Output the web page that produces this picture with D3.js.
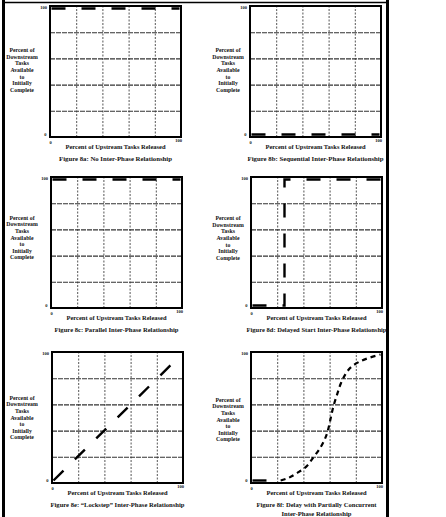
<!DOCTYPE html>
<html>
<head>
<meta charset="utf-8">
<script src="https://cdn.jsdelivr.net/npm/d3@7"></script>
<style>
  body { margin: 0; background: #fff; }
  svg { display: block; }
  text { font-family: "Liberation Serif", "DejaVu Serif", serif; font-weight: bold; fill: #111; }
</style>
</head>
<body>
<div id="chart"></div>
<script>

// Data
var panelIds = ['8a', '8b', '8c', '8d', '8e', '8f'];
var captions = [
    ['Figure 8a:  No Inter-Phase Relationship'],
    ['Figure 8b:  Sequential Inter-Phase Relationship'],
    ['Figure 8c:  Parallel Inter-Phase Relationship'],
    ['Figure 8d:  Delayed Start Inter-Phase Relationship'],
    ['Figure 8e:  \u201cLockstep\u201d Inter-Phase Relationship'],
    ['Figure 8f:  Delay with Partially Concurrent', 'Inter-Phase Relationship']
];
var yLabelLines = ['Percent of', 'Downstream', 'Tasks', 'Available', 'to', 'Initially', 'Complete'];
var xLabel = 'Percent of Upstream Tasks Released';
var gridTicks = [20, 40, 60, 80];
var axisMin = 0, axisMax = 100;

// series values (upstream %, downstream %)
var noRelation   = [[0, 100], [100, 100]];
var sequential   = [[0, 0], [100, 0]];
var parallel     = [[0, 100], [100, 100]];
var delayedStart = [[0, 0], [25, 0], [25, 100], [100, 100]];
var lockstep     = [[0, 0], [100, 100]];
var delayBase    = [[0, 0], [22, 0]];
var delayCurve   = [[22, 0], [28, 2], [35, 6], [42, 11], [48, 19], [53, 26], [57, 34], [59, 40],
                    [61, 49], [63, 58], [66, 68], [69, 77], [73, 85], [77, 90], [83, 94], [90, 97], [100, 100]];

var seriesByPanel = [
    [{ pts: noRelation, style: 'long' }],
    [{ pts: sequential, style: 'long' }],
    [{ pts: parallel, style: 'long' }],
    [{ pts: delayedStart, style: 'long' }],
    [{ pts: lockstep, style: 'long' }],
    [{ pts: delayBase, style: 'long' }, { pts: delayCurve, style: 'short' }]
];

// Layout
var W = 446, H = 517, size = 131;
var origins = [[50, 6], [250, 6], [51, 177], [251, 177], [52, 352], [251, 352]];
var labelDx = [-28, -22, -29, -23, -30, -23];
var labelDy = [-1.5, -1.5, -5, -4.5, 0, 2];
// text widths as measured on the scan
var captionWidths = [[113], [136], [124], [140], [134], [120, 70]];
var xLabelWidth = 100;

var svg = d3.select('#chart').append('svg').attr('width', W).attr('height', H);

// page frame
var frame = svg.append('g').attr('stroke', '#000').attr('fill', 'none');
frame.append('line').attr('x1', 3.5).attr('x2', 3.5).attr('y1', 0).attr('y2', H).attr('stroke-width', 3);
frame.append('line').attr('x1', 387.5).attr('x2', 387.5).attr('y1', 0).attr('y2', H).attr('stroke-width', 3);
frame.append('line').attr('x1', 3).attr('x2', 388).attr('y1', 2.5).attr('y2', 2.5).attr('stroke-width', 1.5);

panelIds.forEach(function(id, i) {
    var o = origins[i];
    var g = svg.append('g').attr('class', 'panel-' + id).attr('transform', 'translate(' + o[0] + ',' + o[1] + ')');

    var x = d3.scaleLinear().domain([axisMin, axisMax]).range([0, size]);
    var y = d3.scaleLinear().domain([axisMin, axisMax]).range([size, 0]);
    // data drawn slightly inside the frame, like the scan
    var xd = d3.scaleLinear().domain([axisMin, axisMax]).range([1.5, size - 1.5]);
    var yd = d3.scaleLinear().domain([axisMin, axisMax]).range([size - 2.5, 2.5]);

    // vertical grid
    var gx = g.append('g').attr('transform', 'translate(0,' + size + ')')
        .call(d3.axisBottom(x).tickValues(gridTicks).tickSize(-size).tickFormat(''));
    gx.select('.domain').remove();
    gx.selectAll('line').attr('stroke', '#555').attr('stroke-width', 1).attr('stroke-dasharray', '2,1.5');

    // horizontal grid
    var gy = g.append('g')
        .call(d3.axisLeft(y).tickValues(gridTicks).tickSize(-size).tickFormat(''));
    gy.select('.domain').remove();
    gy.selectAll('line').attr('stroke', '#333').attr('stroke-width', 1.1).attr('stroke-dasharray', '5,1');

    // box
    g.append('rect').attr('x', x(axisMin)).attr('y', y(axisMax))
        .attr('width', x(axisMax) - x(axisMin)).attr('height', y(axisMin) - y(axisMax))
        .attr('fill', 'none').attr('stroke', '#000').attr('stroke-width', 2);

    // series
    var line = d3.line().x(function(d){ return xd(d[0]); }).y(function(d){ return yd(d[1]); });
    seriesByPanel[i].forEach(function(s) {
        g.append('path')
            .attr('d', s.style === 'short' ? line.curve(d3.curveCatmullRom)(s.pts) : line.curve(d3.curveLinear)(s.pts))
            .attr('fill', 'none').attr('stroke', '#000')
            .attr('stroke-width', s.style === 'short' ? 2.2 : 2.4)
            .attr('stroke-dasharray', s.style === 'short' ? '5,4' : '14,16');
    });

    // end labels
    g.append('text').attr('x', x(axisMin) - 3).attr('y', y(axisMax) + 2.5)
        .attr('text-anchor', 'end').style('font-size', '4.5px').text(axisMax);
    g.append('text').attr('x', x(axisMin) - 3.5).attr('y', y(axisMin) - 1)
        .attr('text-anchor', 'end').style('font-size', '4.5px').text(axisMin);
    g.append('text').attr('x', x(axisMin) + 0.5).attr('y', y(axisMin) + 6.5)
        .attr('text-anchor', 'middle').style('font-size', '4.5px').text(axisMin);
    g.append('text').attr('x', x(axisMax) + 1).attr('y', y(axisMin) + 4.5)
        .attr('text-anchor', 'end').style('font-size', '4.5px').text(axisMax);

    // y label
    var lh = 6.6;
    var y0 = size / 2 + labelDy[i] - lh * (yLabelLines.length - 1) / 2 + 2;
    g.append('text').attr('text-anchor', 'middle').style('font-size', '5.8px')
        .selectAll('tspan').data(yLabelLines).join('tspan')
        .attr('x', labelDx[i]).attr('y', function(d, k){ return y0 + k * lh; })
        .text(function(d){ return d; });

    // x label
    g.append('text').attr('x', size / 2).attr('y', size + 11.5)
        .attr('text-anchor', 'middle').style('font-size', '6.3px')
        .attr('textLength', xLabelWidth).attr('lengthAdjust', 'spacingAndGlyphs')
        .text(xLabel);

    // caption
    captions[i].forEach(function(c, k) {
        g.append('text').attr('x', size / 2).attr('y', size + 23.5 + k * 9)
            .attr('text-anchor', 'middle').style('font-size', '6.3px')
            .attr('textLength', captionWidths[i][k]).attr('lengthAdjust', 'spacingAndGlyphs')
            .text(c);
    });
});

</script>
</body>
</html>
